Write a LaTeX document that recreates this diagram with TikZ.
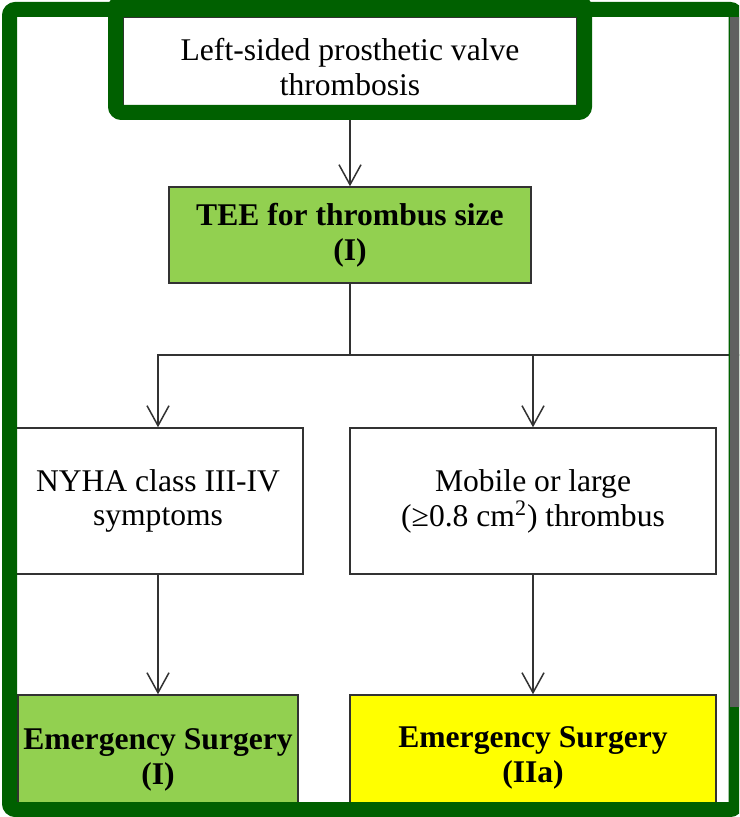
\documentclass[tikz,border=0pt]{standalone}
\usepackage{fontspec}
\setmainfont{Liberation Serif}
\usetikzlibrary{arrows.meta}
\definecolor{framegreen}{RGB}{0,96,0}
\definecolor{teegreen}{RGB}{146,208,80}
\definecolor{surgyellow}{RGB}{255,255,0}
\definecolor{bargray}{RGB}{96,96,96}
\definecolor{linegray}{RGB}{50,50,50}
\tikzset{
    box/.style={draw=linegray,line width=0.75pt,align=center,inner sep=0pt,
        font=\fontsize{15.8}{17.4}\selectfont},
    flow/.style={draw=linegray,line width=0.75pt,
        -{Straight Barb[length=10pt,width=11pt,line width=0.75pt]}},
    highlight/.style={draw=framegreen,line width=7.5pt,rounded corners=3pt}
}

\begin{document}
\begin{tikzpicture}[x=0.5pt,y=-0.5pt]
    \useasboundingbox (0,0) rectangle (739,817);
    \clip (0,0) rectangle (739,817);
    \fill[white] (0,0) rectangle (739,817);
    % Definitions
    \coordinate (Incoming) at (350,0);
    \coordinate (Valve)    at (350,67);
    \coordinate (TEEsize)  at (350,235);
    \coordinate (Split)    at (350,355);
    \coordinate (Offpage)  at (750,355);
    \coordinate (NYHA)     at (158,501);
    \coordinate (Mobile)   at (533,501);
    \coordinate (SurgI)    at (158,760);
    \coordinate (SurgIIa)  at (533,758);
    % Nodes
    \node(V)  at (Valve)   [box,minimum width=227pt,minimum height=50pt] {Left-sided prosthetic valve\\thrombosis};
    \node(T)  at (TEEsize) [box,fill=teegreen,minimum width=181pt,minimum height=48pt] {\bfseries TEE for thrombus size\\\bfseries (I)};
    \node(N)  at (NYHA)    [box,minimum width=145pt,minimum height=73pt] {NYHA class III-IV\\symptoms};
    \node(M)  at (Mobile)  [box,minimum width=183pt,minimum height=73pt] {Mobile or large\\(≥0.8 cm\textsuperscript{2}) thrombus};
    \node(S1) at (SurgI)   [box,fill=teegreen,minimum width=140pt,minimum height=65pt] {\bfseries Emergency Surgery\\\bfseries (I)};
    \node(S2) at (SurgIIa) [box,fill=surgyellow,minimum width=183pt,minimum height=63pt] {\bfseries Emergency Surgery\\\bfseries (IIa)};
    % Arrows
    \draw[flow] (Incoming) -- (V.north);
    \draw[flow] (V.south) -- (T.north);
    \draw[draw=linegray,line width=0.75pt] (T.south) -- (Split) -- (Offpage);
    \draw[flow] (Split) -| (N.north);
    \draw[flow] (Split) -| (M.north);
    \draw[flow] (N.south) -- (S1.north);
    \draw[flow] (M.south) -- (S2.north);
    % Highlight frames
    \draw[highlight] (115.5,2) rectangle (584.5,112.5);
    \draw[highlight] (9.5,9.5) rectangle (736,809.5);
    % Scroll bar
    \fill[bargray] (729.5,17) rectangle (745,707);
\end{tikzpicture}
\end{document}
